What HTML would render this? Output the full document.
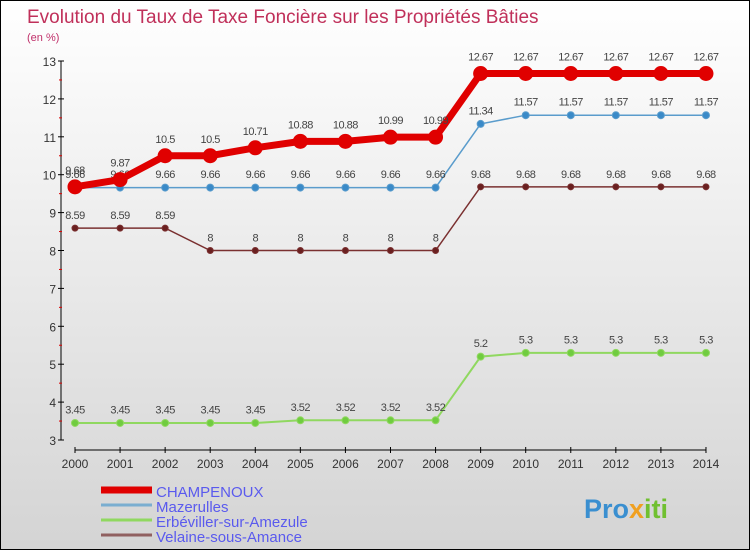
<!DOCTYPE html>
<html><head><meta charset="utf-8"><style>
html,body{margin:0;padding:0}
body{width:750px;height:550px;overflow:hidden;font-family:"Liberation Sans",sans-serif}
#wrap{position:relative;width:748px;height:548px;border:1px solid #000;background:linear-gradient(#ffffff,#d4d4d4)}
</style></head><body>
<div id="wrap">
<svg id="chart" width="748" height="548" style="position:absolute;left:0;top:0">
<text x="26" y="22" font-size="19" fill="#c0305a">Evolution du Taux de Taxe Foncière sur les Propriétés Bâties</text>
<text x="26" y="40" font-size="11" fill="#c0306a">(en %)</text>
<g id="axes"></g>
<g id="series"></g>
<g id="legend"></g>
<text x="583" y="517" font-size="27" font-weight="bold" fill="#3a8fd0">Pro<tspan fill="#f0a020">x</tspan><tspan fill="#70c030">iti</tspan></text>
</svg>
</div>
<script>
const years=[2000,2001,2002,2003,2004,2005,2006,2007,2008,2009,2010,2011,2012,2013,2014];
const champenoux=[9.68,9.87,10.5,10.5,10.71,10.88,10.88,10.99,10.99,12.67,12.67,12.67,12.67,12.67,12.67];
const mazerulles=[9.66,9.66,9.66,9.66,9.66,9.66,9.66,9.66,9.66,11.34,11.57,11.57,11.57,11.57,11.57];
const erbeviller=[3.45,3.45,3.45,3.45,3.45,3.52,3.52,3.52,3.52,5.2,5.3,5.3,5.3,5.3,5.3];
const velaine=[8.59,8.59,8.59,8,8,8,8,8,8,9.68,9.68,9.68,9.68,9.68,9.68];
const yTicks=[3,4,5,6,7,8,9,10,11,12,13];
const seriesNames=["CHAMPENOUX","Mazerulles","Erbéviller-sur-Amezule","Velaine-sous-Amance"];
const NS="http://www.w3.org/2000/svg";
const x=i=>74+i*45.07;
const y=v=>439-(v-3)*37.9;
function el(t,a,p){const e=document.createElementNS(NS,t);for(const k in a)e.setAttribute(k,a[k]);p.appendChild(e);return e;}
const ax=document.getElementById('axes');
const yl=el('line',{x1:60,y1:y(13),x2:60,y2:y(3),stroke:'#000'},ax);


yTicks.forEach(v=>{
  el('line',{x1:57,y1:y(v),x2:63,y2:y(v),stroke:'#000'},ax);
  if(v<13)el('line',{x1:58,y1:y(v+0.5),x2:61,y2:y(v+0.5),stroke:'#d00'},ax);
  const t=el('text',{x:55,y:y(v)+5,'font-size':12,'text-anchor':'end',fill:'#333'},ax);
  t.textContent=v;
  
  
});
const xl=el('line',{x1:x(0),y1:449,x2:x(14),y2:449,stroke:'#000'},ax);


years.forEach((yr,i)=>{
  el('line',{x1:x(i),y1:446,x2:x(i),y2:452,stroke:'#000'},ax);
  const t=el('text',{x:x(i),y:467,'font-size':12,'text-anchor':'middle',fill:'#333'},ax);
  t.textContent=yr;
  
  
});
const sg=document.getElementById('series');
function draw(data,color,w,r,fill,name,fs){
  const g=el('g',{},sg);
  
  
  const ln=el('polyline',{points:data.map((v,i)=>x(i)+','+y(v)).join(' '),fill:'none',stroke:color,'stroke-width':w},g);
  
  
  data.forEach((v,i)=>{
    const c=el('circle',{cx:x(i),cy:y(v),r:r,fill:fill,stroke:color,'stroke-width':1},g);
    
    
    const t=el('text',{x:x(i),y:y(v)-(r+6),'font-size':fs,'text-anchor':'middle',fill:'#444','letter-spacing':'-0.5'},g);
    t.textContent=v;
    
    
  });
}
draw(erbeviller,'#90d860',2,3.5,'#70cc40','erbeviller',11);
draw(velaine,'#7a3030',1.5,3,'#6a2020','velaine',11);
draw(mazerulles,'#5a9ccc',1.5,3.5,'#3a8ac8','mazerulles',11);
draw(champenoux,'#e00000',7,7,'#e00000','champenoux',11);
const lg=document.getElementById('legend');
const lcol=['#e00000','#7aaed0','#90d860','#906060'];
const lw=[7,3,3,3];
seriesNames.forEach((n,i)=>{
  const yy=494+i*15;
  const g=el('g',{},lg);
  
  
  el('line',{x1:100,y1:yy-5,x2:151,y2:yy-5,stroke:lcol[i],'stroke-width':lw[i]},g);
  const t=el('text',{x:155,y:yy+2,'font-size':15,fill:'#5a5aee'},g);
  t.textContent=n;
});
</script>
</body></html>
